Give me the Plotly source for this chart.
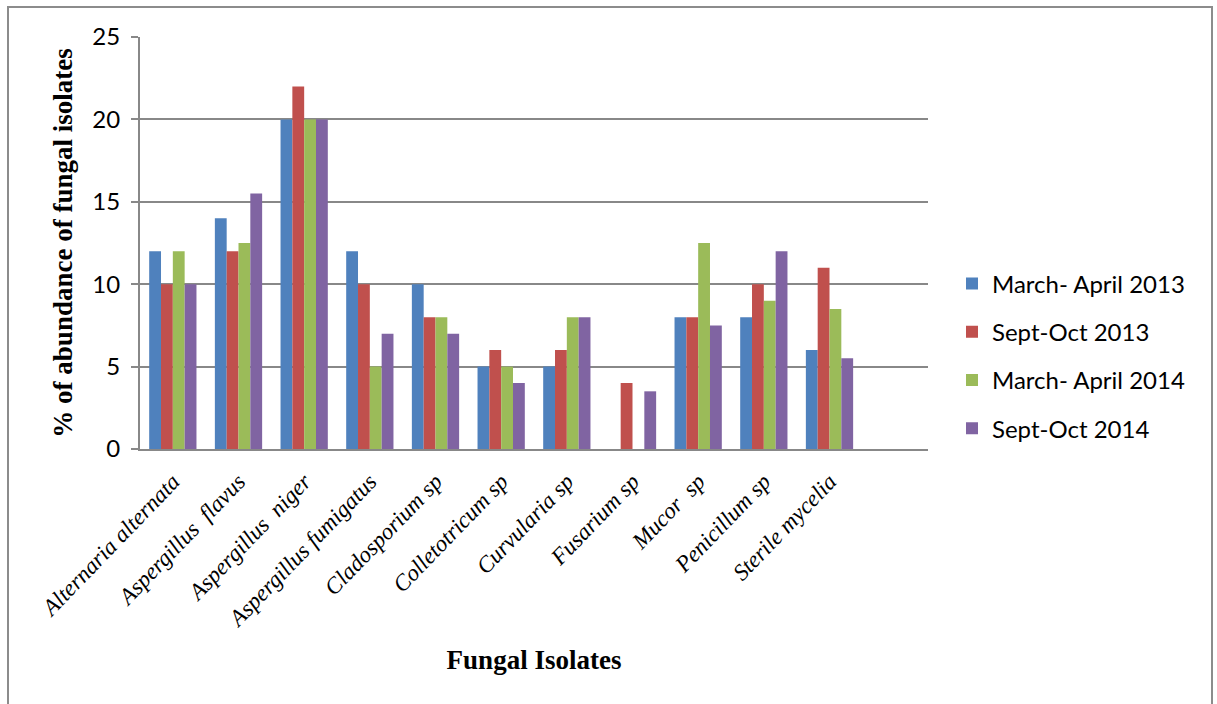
import plotly.graph_objects as go

categories = ["Alternaria alternata", "Aspergillus  flavus", "Aspergillus  niger",
              "Aspergillus fumigatus", "Cladosporium sp", "Colletotricum sp",
              "Curvularia sp", "Fusarium sp", "Mucor  sp", "Penicillum sp",
              "Sterile mycelia"]
march_april_2013 = [12, 14, 20, 12, 10, 5, 5, 0, 8, 8, 6]
sept_oct_2013 = [10, 12, 22, 10, 8, 6, 6, 4, 8, 10, 11]
march_april_2014 = [12, 12.5, 20, 5, 8, 5, 8, 0, 12.5, 9, 8.5]
sept_oct_2014 = [10, 15.5, 20, 7, 7, 4, 8, 3.5, 7.5, 12, 5.5]
series_names = ["March- April 2013", "Sept-Oct 2013", "March- April 2014", "Sept-Oct 2014"]
colors = ["#4F81BD", "#C0504D", "#9BBB59", "#8064A2"]
y_ticks = [0, 5, 10, 15, 20, 25]

xpos = list(range(len(categories)))
fig = go.Figure()
for i, (name, vals) in enumerate(zip(series_names,
                                     [march_april_2013, sept_oct_2013, march_april_2014, sept_oct_2014])):
    fig.add_trace(go.Bar(x=xpos, y=vals, name=name, marker_color=colors[i],
                         marker_line_width=0, legendgroup=f"g{i}"))

# plot area: x 140..928, y 37..449
W, H = 1217, 704
L, R, T, B = 140, 928, 37, 449
pw, ph = R - L, B - T

def px(x):
    return (x - L) / pw

def py(y):
    return (B - y) / ph

fig.update_layout(
    width=W, height=H,
    margin=dict(l=L, r=W - R, t=T, b=H - B),
    barmode="group", bargap=0.28, bargroupgap=0,
    plot_bgcolor="white", paper_bgcolor="white",
    font=dict(family="Lato, Liberation Sans", color="black"),
    showlegend=True,
    legend=dict(x=px(952), y=py(356), xanchor="left", yanchor="middle",
                font=dict(size=24, family="Lato, Liberation Sans", color="black"),
                traceorder="grouped", tracegroupgap=14, itemwidth=30,
                bgcolor="rgba(0,0,0,0)"),
    xaxis=dict(range=[-0.5, 11.5], tickmode="array", tickvals=xpos, ticktext=categories,
               tickangle=-46, showgrid=False, zeroline=False, showline=True,
               linecolor="#888888", linewidth=2, ticklabelstandoff=8,
               tickfont=dict(family="Liberation Serif", size=23, style="italic", color="black"),
               title=dict(text="<b>Fungal Isolates</b>",
                          font=dict(family="Liberation Serif", size=27, color="black"),
                          standoff=19)),
    yaxis=dict(range=[0, 25], tickmode="array", tickvals=y_ticks,
               showgrid=True, gridcolor="#888888", gridwidth=2,
               zeroline=False, showline=True, linecolor="#888888", linewidth=2,
               ticks="outside", ticklen=7, tickcolor="#888888", tickwidth=2,
               ticklabelstandoff=6,
               tickfont=dict(family="Lato, Liberation Sans", size=24, color="black"),
               title=dict(text="<b>% of abundance of fungal isolates</b>",
                          font=dict(family="Liberation Serif", size=27, color="black"),
                          standoff=12)),
)

# outer chart border (top, left, right visible)
fig.add_shape(type="rect", xref="paper", yref="paper",
              x0=px(8), x1=px(1212), y0=py(712), y1=py(7),
              line=dict(color="#8c8c8c", width=2), fillcolor="rgba(0,0,0,0)", layer="below")

fig.write_html("out.html")
